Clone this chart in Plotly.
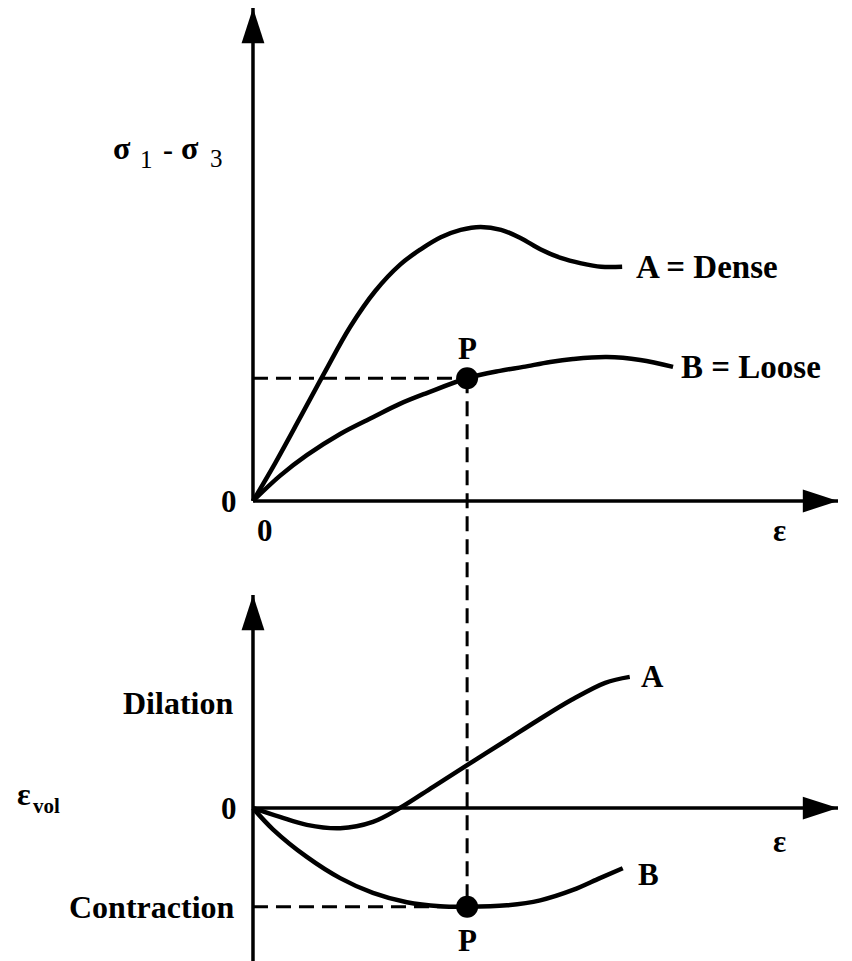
import plotly.graph_objects as go

# ---- top panel: deviator stress (sigma1 - sigma3) against axial strain ----
eps_A = [0, 0.38, 0.81, 1.23, 1.66, 2.09, 2.52, 2.86, 3.21, 3.55, 3.89, 4.24, 4.58, 4.92, 5.26, 5.61, 5.95, 6.31]
q_A = [0, 0.77, 1.70, 2.62, 3.53, 4.26, 4.80, 5.10, 5.35, 5.50, 5.56, 5.50, 5.33, 5.10, 4.93, 4.82, 4.75, 4.75]
eps_B = [0, 0.46, 0.92, 1.49, 2.05, 2.51, 2.97, 3.66, 4.22, 4.62, 5.08, 5.47, 6.05, 6.62, 7.18]
q_B = [0, 0.51, 0.93, 1.36, 1.70, 1.97, 2.19, 2.49, 2.64, 2.72, 2.82, 2.88, 2.92, 2.86, 2.72]

# ---- bottom panel: volumetric strain against axial strain ----
epsv_A_x = [0, 0.46, 0.92, 1.49, 2.05, 2.51, 3.08, 3.66, 4.34, 4.87, 5.44, 6.02, 6.44]
epsv_A = [0, -0.18, -0.34, -0.41, -0.28, 0.0, 0.43, 0.87, 1.38, 1.78, 2.19, 2.54, 2.66]
epsv_B_x = [0, 0.34, 0.92, 1.49, 2.05, 2.63, 3.20, 3.66, 4.34, 4.91, 5.47, 5.93, 6.32]
epsv_B = [0, -0.43, -0.99, -1.42, -1.72, -1.91, -1.99, -2.0, -1.97, -1.87, -1.66, -1.42, -1.22]

# state P, picked on the loose curve
P_eps, P_q, P_vol = 3.66, 2.49, -2.0

# axis extents (the arrow tips sit at the upper ends) and placement
W, H = 852, 961
X_RANGE = [-0.2, 10.0]
Y1_RANGE = [-0.2, 10.0]
Y2_RANGE = [-3.1, 4.32]
X_DOM = [0.2832, 0.9836]
Y1_DOM = [0.4684, 0.9917]
Y2_DOM = [0.0, 0.3809]

FONT = "Liberation Serif"
CURVE = dict(color="black", width=4.5)
DASH = dict(color="black", width=3, dash="15px,8px")
AXIS_LINE = dict(color="black", width=3.5)


def to_paper(v, rng, dom):
    return dom[0] + (v - rng[0]) / (rng[1] - rng[0]) * (dom[1] - dom[0])


fig = go.Figure()


def add_axis(xa, ya, x_tip, y_lo, y_tip):
    # horizontal and vertical axis lines ending in filled arrowheads
    fig.add_trace(go.Scatter(x=[0, x_tip], y=[0, 0], mode="lines", line=AXIS_LINE,
                             xaxis=xa, yaxis=ya, hoverinfo="skip"))
    fig.add_trace(go.Scatter(x=[0, 0], y=[y_lo, y_tip], mode="lines", line=AXIS_LINE,
                             xaxis=xa, yaxis=ya, hoverinfo="skip"))
    fig.add_trace(go.Scatter(x=[x_tip, 0], y=[0, y_tip], mode="markers",
                             marker=dict(symbol="arrow", size=37, angle=[90, 0], color="black",
                                         line=dict(width=0)),
                             cliponaxis=False, xaxis=xa, yaxis=ya, hoverinfo="skip"))


add_axis("x", "y", X_RANGE[1], 0, Y1_RANGE[1])
add_axis("x2", "y2", X_RANGE[1], Y2_RANGE[0], Y2_RANGE[1])

# top panel curves
fig.add_trace(go.Scatter(x=eps_A, y=q_A, mode="lines", line=dict(shape="spline", smoothing=1, **CURVE),
                         xaxis="x", yaxis="y"))
fig.add_trace(go.Scatter(x=eps_B, y=q_B, mode="lines", line=dict(shape="spline", smoothing=1, **CURVE),
                         xaxis="x", yaxis="y"))
fig.add_trace(go.Scatter(x=[0, P_eps], y=[P_q, P_q], mode="lines", line=DASH, xaxis="x", yaxis="y"))
fig.add_trace(go.Scatter(x=[P_eps], y=[P_q], mode="markers", marker=dict(size=22, color="black"),
                         cliponaxis=False, xaxis="x", yaxis="y"))

# bottom panel curves
fig.add_trace(go.Scatter(x=epsv_A_x, y=epsv_A, mode="lines", line=dict(shape="spline", smoothing=1, **CURVE),
                         xaxis="x2", yaxis="y2"))
fig.add_trace(go.Scatter(x=epsv_B_x, y=epsv_B, mode="lines", line=dict(shape="spline", smoothing=1, **CURVE),
                         xaxis="x2", yaxis="y2"))
fig.add_trace(go.Scatter(x=[0, P_eps], y=[P_vol, P_vol], mode="lines", line=DASH, xaxis="x2", yaxis="y2"))
fig.add_trace(go.Scatter(x=[P_eps], y=[P_vol], mode="markers", marker=dict(size=22, color="black"),
                         cliponaxis=False, xaxis="x2", yaxis="y2"))

# vertical projection of P from the stress curve down to the volume curve
fig.add_shape(type="line", xref="x", yref="paper", x0=P_eps, x1=P_eps,
              y0=to_paper(P_q, Y1_RANGE, Y1_DOM), y1=to_paper(P_vol, Y2_RANGE, Y2_DOM),
              line=DASH, layer="below")


def label(text, xref, yref, x, y, xanchor="center", yanchor="middle", size=31, **kw):
    return dict(text=text, xref=xref, yref=yref, x=x, y=y, xanchor=xanchor, yanchor=yanchor,
                showarrow=False, font=dict(family=FONT, size=size, color="black"), **kw)


def page_label(text, px, py, size=31, xanchor="center"):
    # label placed by page position (pixels from the top-left corner)
    return label(text, "paper", "paper", px / W, 1 - py / H, xanchor=xanchor, size=size)


X0 = X_RANGE[0]  # left edge of the plotting area, used to hang labels left of the vertical axes

annotations = [
    # vertical axis title of the top panel, with hand-set subscripts
    page_label("<b>σ</b>", 122, 148, size=32),
    page_label("1", 146, 159, size=25),
    page_label("<b>-</b>", 168, 150, size=30),
    page_label("<b>σ</b>", 190, 148, size=32),
    page_label("3", 216, 158, size=25),
    # top panel text
    label("<b>0</b>", "x", "y", X0, 0, xanchor="right", xshift=-2),
    label("<b>0</b>", "x", "y", 0.2, 0, yanchor="top", yshift=-10),
    label("<b>ε</b>", "x", "y", 9.0, 0, yanchor="top", yshift=-10),
    label("<b>A = Dense</b>", "x", "y", eps_A[-1] + 0.2, q_A[-1], xanchor="left", size=33),
    label("<b>B = Loose</b>", "x", "y", eps_B[-1] + 0.1, q_B[-1], xanchor="left", size=33),
    label("<b>P</b>", "x", "y", P_eps, P_q, yanchor="bottom", yshift=10),
    # vertical axis title of the bottom panel
    page_label("<b>ε</b>", 15, 794, size=32, xanchor="left"),
    page_label("<b>vol</b>", 31, 806, size=21, xanchor="left"),
    # bottom panel text
    label("<b>Dilation</b>", "x2", "y2", X0, 2.13, xanchor="right", xshift=-6, size=32),
    label("<b>0</b>", "x2", "y2", X0, 0, xanchor="right", xshift=-2),
    label("<b>Contraction</b>", "x2", "y2", X0, P_vol, xanchor="right", xshift=-4, size=32),
    label("<b>ε</b>", "x2", "y2", 9.0, 0, yanchor="top", yshift=-14),
    label("<b>A</b>", "x2", "y2", epsv_A_x[-1] + 0.15, epsv_A[-1], xanchor="left"),
    label("<b>B</b>", "x2", "y2", epsv_B_x[-1] + 0.22, epsv_B[-1], xanchor="left", yshift=-6),
    label("<b>P</b>", "x2", "y2", P_eps, P_vol, yanchor="top", yshift=-14),
]

hidden = dict(visible=False, showgrid=False, zeroline=False)
fig.update_layout(
    width=W, height=H,
    margin=dict(l=0, r=0, t=0, b=0),
    paper_bgcolor="white", plot_bgcolor="white",
    showlegend=False,
    xaxis=dict(domain=X_DOM, range=X_RANGE, anchor="y", **hidden),
    yaxis=dict(domain=Y1_DOM, range=Y1_RANGE, anchor="x", **hidden),
    xaxis2=dict(domain=X_DOM, range=X_RANGE, anchor="y2", **hidden),
    yaxis2=dict(domain=Y2_DOM, range=Y2_RANGE, anchor="x2", **hidden),
    annotations=annotations,
    font=dict(family=FONT, size=31, color="black"),
)

fig.write_html("out.html")
